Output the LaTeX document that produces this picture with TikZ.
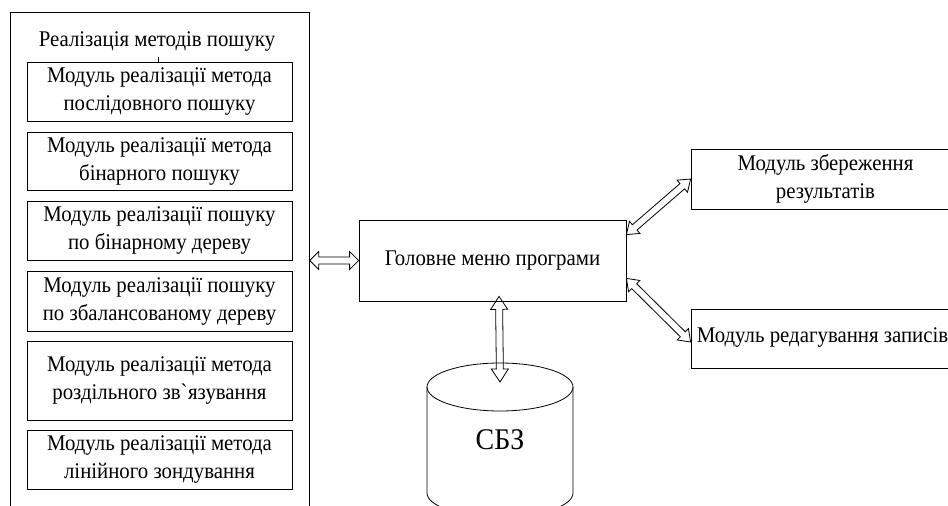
\documentclass[tikz,border=0pt]{standalone}
\usepackage{fontspec}
\setmainfont[FakeStretch=0.93]{Liberation Serif}
\usetikzlibrary{calc}
\newcommand\harrow[5]{%
  \coordinate (ha) at ($(#4)!#1!(#5)$);
  \coordinate (hb) at ($(#5)!#1!(#4)$);
  \draw[conn] (#4) -- ($(ha)!#2!90:(#5)$) -- ($(ha)!#3!90:(#5)$)
    -- ($(hb)!#3!-90:(#4)$) -- ($(hb)!#2!-90:(#4)$) -- (#5)
    -- ($(hb)!#2!90:(#4)$) -- ($(hb)!#3!90:(#4)$)
    -- ($(ha)!#3!-90:(#5)$) -- ($(ha)!#2!-90:(#5)$) -- cycle;}
\tikzset{
  box/.style={draw, line width=0.8pt, align=center, inner sep=0pt,
    font=\fontsize{22.4}{28}\selectfont},
  txt/.style={inner sep=0pt, font=\fontsize{22.4}{28}\selectfont},
  conn/.style={draw, line width=0.8pt, line join=miter},
  line/.style={draw, line width=0.8pt}
}
\begin{document}
\begin{tikzpicture}[x=1pt,y=-1pt]
\useasboundingbox (0,0) rectangle (948,506);
\fill[white] (0,0) rectangle (948,506);
\node[box, minimum width=299, minimum height=530, anchor=north west] (outer) at (10,12) {};
\node[txt, anchor=base] (title) at (157,46) {Реалізація методів пошуку};
\coordinate (tick) at (158,57);
\node[box, minimum width=265, minimum height=59] (m1) at (159.5,91.5) {Модуль реалізації метода\\послідовного пошуку};
\node[box, minimum width=265, minimum height=58] (m2) at (159.5,161) {Модуль реалізації метода\\бінарного пошуку};
\node[box, minimum width=265, minimum height=59] (m3) at (159.5,230.5) {Модуль реалізації пошуку\\по бінарному дереву};
\node[box, minimum width=265, minimum height=60] (m4) at (159.5,301) {Модуль реалізації пошуку\\по збалансованому дереву};
\node[box, minimum width=265, minimum height=79] (m5) at (159.5,380.5) {Модуль реалізації метода\\роздільного зв\textasciigrave язування};
\node[box, minimum width=265, minimum height=59] (m6) at (159.5,459.5) {Модуль реалізації метода\\лінійного зондування};
\draw[line] (tick) -- (tick |- m1.north);

\node[box, minimum width=267, minimum height=81] (main) at (492.5,260.5) {Головне меню програми};
\node[box, minimum width=269, minimum height=60] (tr) at (825.5,179) {Модуль збереження\\результатів};
\node[box, minimum width=269, minimum height=59] (br) at (825.5,338.5) {};
\node[txt] (brt) at (822.5,337) {Модуль редагування записів};

\draw[line] (427,387) -- (427,493) arc[start angle=180, end angle=360, x radius=73pt, y radius=24pt] -- (573,387);
\draw[line] (500,387) ellipse [x radius=73pt, y radius=24pt];
\node[inner sep=0pt, font=\fontsize{30}{32}\selectfont] (db) at (500,440) {СБЗ};
\coordinate (dbtop) at (500,382);

\coordinate (l1) at (outer.east |- main.west);
\coordinate (v1) at ([xshift=6.5pt,yshift=5pt]main.south);
\coordinate (d1) at ([yshift=-15pt]main.north east);
\coordinate (d2) at ([yshift=23pt]main.south east);
\coordinate (d3) at ([yshift=-3.5pt]br.west);
\harrow{9pt}{9pt}{3.5pt}{l1}{main.west}
\harrow{13pt}{8.5pt}{3.5pt}{v1}{dbtop}
\harrow{11pt}{8pt}{3.5pt}{d1}{tr.west}
\harrow{11pt}{8pt}{3.5pt}{d2}{d3}
\end{tikzpicture}
\end{document}
